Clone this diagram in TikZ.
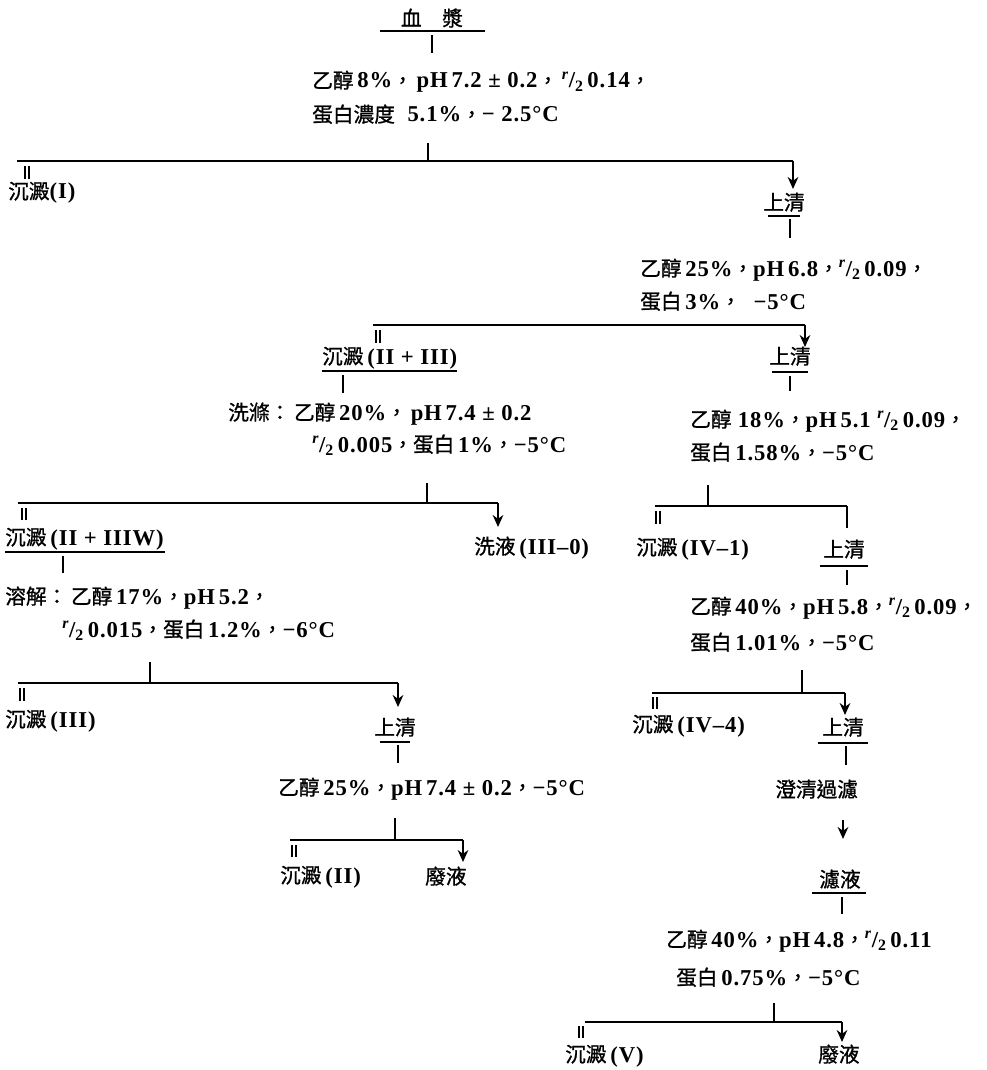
\documentclass[tikz,border=0pt]{standalone}
\usepackage{fontspec}
\setmainfont{Liberation Serif}[LetterSpace=4]
\newfontfamily\cjk{Noto Sans CJK TC}[FakeBold=1]
\usetikzlibrary{arrows.meta}
\newcommand\zh[1]{{\cjk\mdseries\fontsize{15.5}{18}\selectfont #1}}
\newcommand\ionst{\textsuperscript{\itshape r}/\textsubscript{2}\,}
\begin{document}
\begin{tikzpicture}[x=0.75pt,y=-0.75pt,
  txt/.style={anchor=base west, inner sep=0pt, font=\fontsize{17}{20}\selectfont\bfseries},
  ctr/.style={anchor=base, inner sep=0pt, font=\fontsize{17}{20}\selectfont\bfseries},
  ln/.style={line width=1.2pt},
  arr/.style={line width=1.2pt, -{Stealth[length=9pt,width=8pt]}},
  ppt/.style={line width=0.9pt}]
\useasboundingbox (0,0) rectangle (987,1070);

% ---- top
\node[ctr] (plasma) at (432,26) {\zh{血　漿}};
\coordinate (plUL) at (380,31); \coordinate (plUR) at (485,31);
\draw[ln] (plUL) -- (plUR);
\coordinate (plA) at (432,35); \coordinate (plB) at (432,53);
\draw[ln] (plA) -- (plB);
\node[txt] (t1a) at (312,88) {\zh{乙醇}\,8\%\zh{，}\,pH\,7.2 ± 0.2\zh{，}\,\ionst0.14\zh{，}};
\node[txt] (t1b) at (312,122) {\zh{蛋白濃度}\;\;5.1\%\zh{，}− 2.5°C};
\coordinate (k1a) at (428,143); \coordinate (k1b) at (428,161);
\draw[ln] (k1a) -- (k1b);
\coordinate (b1L) at (17,161); \coordinate (b1R) at (793,161);
\draw[ln] (b1L) -- (b1R);
\draw[ppt] (25,166) -- (25,179) (29,166) -- (29,179);
\node[txt] (p1) at (8,199) {\zh{沉澱}(I)};
\coordinate (a1) at (793,189);
\draw[arr] (b1R) -- (a1);
\node[ctr] (s1) at (784,210) {\zh{上清}};
\coordinate (s1L) at (768,216); \coordinate (s1R) at (800,216);
\draw[ln] (s1L) -- (s1R);
\coordinate (s1a) at (790,219); \coordinate (s1b) at (790,238);
\draw[ln] (s1a) -- (s1b);

% ---- second
\node[txt] (t2a) at (640,276) {\zh{乙醇}\,25\%\zh{，}pH\,6.8\zh{，}\ionst0.09\zh{，}};
\node[txt] (t2b) at (640,309) {\zh{蛋白}\,3\%\zh{，}\;\;−5°C};
\coordinate (b2L) at (373,325); \coordinate (b2R) at (805,325);
\draw[ln] (b2L) -- (b2R);
\draw[ppt] (376,330) -- (376,343) (380,330) -- (380,343);
\coordinate (a2) at (805,347);
\draw[arr] (b2R) -- (a2);
\node[txt] (p2) at (322,364) {\zh{沉澱}\,(II + III)};
\coordinate (p2L) at (322,371); \coordinate (p2R) at (457,371);
\draw[ln] (p2L) -- (p2R);
\coordinate (p2a) at (343,375); \coordinate (p2b) at (343,393);
\draw[ln] (p2a) -- (p2b);
\node[ctr] (s2) at (790,364) {\zh{上清}};
\coordinate (s2L) at (772,372); \coordinate (s2R) at (808,372);
\draw[ln] (s2L) -- (s2R);
\coordinate (s2a) at (790,376); \coordinate (s2b) at (790,391);
\draw[ln] (s2a) -- (s2b);

% ---- wash branch
\node[txt] (t3a) at (228,420) {\zh{洗滌：}\,\zh{乙醇}\,20\%\zh{，}\,pH\,7.4 ± 0.2};
\node[txt] (t3b) at (312,452) {\ionst0.005\zh{，}\zh{蛋白}\,1\%\zh{，}−5°C};
\coordinate (k3a) at (427,483); \coordinate (k3b) at (427,503);
\draw[ln] (k3a) -- (k3b);
\coordinate (b3L) at (18,503); \coordinate (b3R) at (498,503);
\draw[ln] (b3L) -- (b3R);
\draw[ppt] (22,508) -- (22,520) (26,508) -- (26,520);
\coordinate (a3) at (498,527);
\draw[arr] (b3R) -- (a3);
\node[txt] (p3) at (5,545) {\zh{沉澱}\,(II + IIIW)};
\coordinate (p3L) at (5,552); \coordinate (p3R) at (165,552);
\draw[ln] (p3L) -- (p3R);
\coordinate (p3a) at (63,556); \coordinate (p3b) at (63,573);
\draw[ln] (p3a) -- (p3b);
\node[txt] (w3) at (474,554) {\zh{洗液}\,(III–0)};

% ---- 18% branch
\node[txt] (t4a) at (690,427) {\zh{乙醇}\;18\%\zh{，}pH\,5.1 \ionst0.09\zh{，}};
\node[txt] (t4b) at (690,460) {\zh{蛋白}\,1.58\%\zh{，}−5°C};
\coordinate (k4a) at (708,485); \coordinate (k4b) at (708,506);
\draw[ln] (k4a) -- (k4b);
\coordinate (b4L) at (655,506); \coordinate (b4R) at (847,506);
\draw[ln] (b4L) -- (b4R);
\draw[ppt] (656,511) -- (656,524) (660,511) -- (660,524);
\coordinate (a4) at (847,528);
\draw[ln] (b4R) -- (a4);
\node[txt] (p4) at (636,555) {\zh{沉澱}\,(IV–1)};
\node[ctr] (s4) at (844,557) {\zh{上清}};
\coordinate (s4L) at (820,566); \coordinate (s4R) at (868,566);
\draw[ln] (s4L) -- (s4R);
\coordinate (s4a) at (847,570); \coordinate (s4b) at (847,585);
\draw[ln] (s4a) -- (s4b);

% ---- dissolve branch
\node[txt] (t5a) at (5,604) {\zh{溶解：}\,\zh{乙醇}\,17\%\zh{，}pH\,5.2\zh{，}};
\node[txt] (t5b) at (62,637) {\ionst0.015\zh{，}\zh{蛋白}\,1.2\%\zh{，}−6°C};
\coordinate (k5a) at (150,662); \coordinate (k5b) at (150,683);
\draw[ln] (k5a) -- (k5b);
\coordinate (b5L) at (18,683); \coordinate (b5R) at (398,683);
\draw[ln] (b5L) -- (b5R);
\draw[ppt] (20,688) -- (20,701) (24,688) -- (24,701);
\coordinate (a5) at (398,707);
\draw[arr] (b5R) -- (a5);
\node[txt] (p5) at (5,727) {\zh{沉澱}\,(III)};
\node[ctr] (s5) at (395,735) {\zh{上清}};
\coordinate (s5L) at (380,742); \coordinate (s5R) at (410,742);
\draw[ln] (s5L) -- (s5R);
\coordinate (s5a) at (398,745); \coordinate (s5b) at (398,763);
\draw[ln] (s5a) -- (s5b);
\node[txt] (t6) at (278,795) {\zh{乙醇}\,25\%\zh{，}pH\,7.4 ± 0.2\zh{，}−5°C};
\coordinate (k6a) at (395,818); \coordinate (k6b) at (395,840);
\draw[ln] (k6a) -- (k6b);
\coordinate (b6L) at (290,840); \coordinate (b6R) at (463,840);
\draw[ln] (b6L) -- (b6R);
\draw[ppt] (292,845) -- (292,857) (296,845) -- (296,857);
\coordinate (a6) at (463,862);
\draw[arr] (b6R) -- (a6);
\node[txt] (p6) at (280,883) {\zh{沉澱}\,(II)};
\node[txt] (w6) at (425,884) {\zh{廢液}};

% ---- 40% branch
\node[txt] (t7a) at (690,614) {\zh{乙醇}\,40\%\zh{，}pH\,5.8\zh{，}\ionst0.09\zh{，}};
\node[txt] (t7b) at (690,650) {\zh{蛋白}\,1.01\%\zh{，}−5°C};
\coordinate (k7a) at (802,670); \coordinate (k7b) at (802,693);
\draw[ln] (k7a) -- (k7b);
\coordinate (b7L) at (652,693); \coordinate (b7R) at (845,693);
\draw[ln] (b7L) -- (b7R);
\draw[ppt] (653,697) -- (653,709) (657,697) -- (657,709);
\coordinate (a7) at (845,715);
\draw[arr] (b7R) -- (a7);
\node[txt] (p7) at (632,732) {\zh{沉澱}\,(IV–4)};
\node[ctr] (s7) at (843,735) {\zh{上清}};
\coordinate (s7L) at (818,743); \coordinate (s7R) at (868,743);
\draw[ln] (s7L) -- (s7R);
\coordinate (s7a) at (846,746);
\node[txt] (f7) at (775,797) {\zh{澄清過濾}};
\coordinate (s7b) at (846,765);
\draw[ln] (s7a) -- (s7b);
\coordinate (f7a) at (843,820); \coordinate (f7b) at (843,839);
\draw[arr] (f7a) -- (f7b);
\node[ctr] (s8) at (840,887) {\zh{濾液}};
\coordinate (s8L) at (812,893); \coordinate (s8R) at (866,893);
\draw[ln] (s8L) -- (s8R);
\coordinate (s8a) at (842,897); \coordinate (s8b) at (842,914);
\draw[ln] (s8a) -- (s8b);
\node[txt] (t8a) at (666,947) {\zh{乙醇}\,40\%\zh{，}pH\,4.8\zh{，}\ionst0.11};
\node[txt] (t8b) at (676,985) {\zh{蛋白}\,0.75\%\zh{，}−5°C};
\coordinate (k8a) at (774,1003); \coordinate (k8b) at (774,1022);
\draw[ln] (k8a) -- (k8b);
\coordinate (b8L) at (585,1022); \coordinate (b8R) at (842,1022);
\draw[ln] (b8L) -- (b8R);
\draw[ppt] (579,1026) -- (579,1038) (583,1026) -- (583,1038);
\coordinate (a8) at (842,1042);
\draw[arr] (b8R) -- (a8);
\node[txt] (p8) at (565,1062) {\zh{沉澱}\,(V)};
\node[txt] (w8) at (818,1062) {\zh{廢液}};
\end{tikzpicture}
\end{document}
